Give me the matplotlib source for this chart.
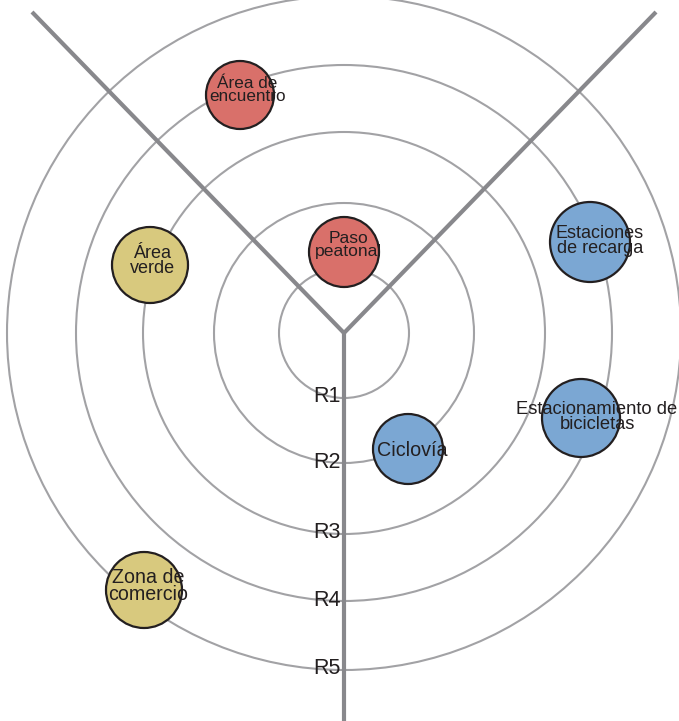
import matplotlib

matplotlib.use("Agg")
import matplotlib.pyplot as plt
from matplotlib.patches import Circle

plt.rcParams["font.family"] = ["Liberation Sans", "DejaVu Sans"]

# pixel layout
center = (344, 333)
ring_radii = [65, 130, 201, 268, 337]
ring_labels = ["R1", "R2", "R3", "R4", "R5"]
spoke_ends = [(32, 12), (656, 12), (344, 721)]

names = ["Área de\nencuentro", "Paso\npeatonal", "Área\nverde", "Estaciones\nde recarga",
         "Estacionamiento de\nbicicletas", "Ciclovía", "Zona de\ncomercio"]
bx = [240, 344, 150, 590, 581, 408, 144]
by = [95, 252, 265, 242, 418, 449, 590]
br = [34, 35, 38, 40, 39, 35, 38]
tx = [247, 348, 152, 600, 597, 412, 148]
ty = [90, 245, 261, 241, 417, 450, 586]
fsize = [12.3, 12.6, 13.0, 13.0, 13.2, 14.2, 14.1]
colors = ["#d9706a", "#d9706a", "#d8c97e", "#7ba7d3", "#7ba7d3", "#7ba7d3", "#d8c97e"]

ink = "#231f20"

fig = plt.figure(figsize=(6.79, 7.21), dpi=100)
ax = fig.add_axes([0, 0, 1, 1])
ax.set_xlim(0, 679)
ax.set_ylim(721, 0)
ax.set_aspect("equal")
ax.axis("off")

for r in ring_radii:
    ax.add_patch(Circle(center, r, fill=False, ec="#a2a2a5", lw=1.5, zorder=1))

for ex, ey in spoke_ends:
    ax.plot([center[0], ex], [center[1], ey], color="#88888c", lw=3.0,
            solid_capstyle="butt", zorder=2)

for r, lab in zip(ring_radii, ring_labels):
    ax.text(center[0] - 3, center[1] + r - 1, lab, ha="right", va="center",
            fontsize=15.5, color=ink, zorder=3)

for i in range(len(names)):
    ax.add_patch(Circle((bx[i], by[i]), br[i], fc=colors[i], ec=ink, lw=1.6, zorder=4))
    ax.text(tx[i], ty[i], names[i], ha="center", va="center", fontsize=fsize[i],
            color=ink, linespacing=0.9, zorder=5)

fig.savefig("out.png", dpi=100)
